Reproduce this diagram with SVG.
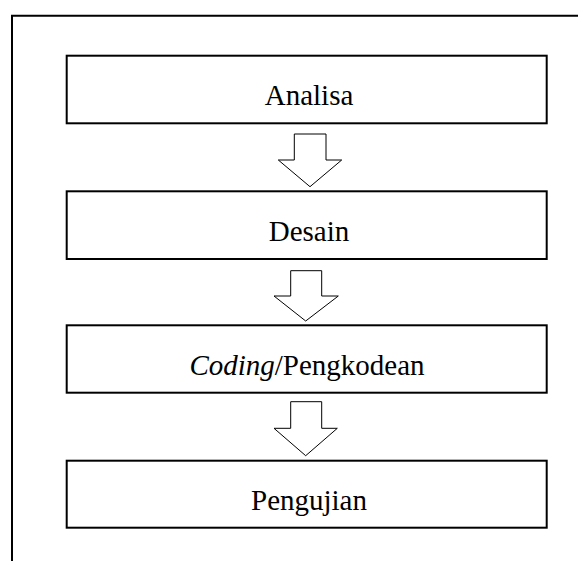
<svg xmlns="http://www.w3.org/2000/svg" width="578" height="561" viewBox="0 0 578 561">
<style>
.box{fill:#fff;stroke:#000;stroke-width:2}
.frame{fill:none;stroke:#000;stroke-width:2}
.arr{fill:#fff;stroke:#000;stroke-width:1}
text{font-family:"Liberation Serif","Times New Roman",serif;font-size:29px;fill:#000;text-anchor:middle}
</style>
<g id="frame"><path class="frame" d="M12,561 V15.7 H578"/></g>
<g id="connectors">
<polygon class="arr" points="294.3,134 326,134 326,160 341.7,160 310,186.7 278.3,160 294.3,160"/>
<polygon class="arr" points="290.7,270.7 321.7,270.7 321.7,296 338.3,296 305.7,321 274,296 290.7,296"/>
<polygon class="arr" points="290.7,401.7 321.7,401.7 321.7,428.3 337.3,428.3 305.7,455.7 274,428.3 290.7,428.3"/>
</g>
<g id="n1"><rect class="box" x="66.7" y="55.7" width="480" height="67.6"/><text x="309" y="105">Analisa</text></g>
<g id="n2"><rect class="box" x="66.7" y="191.3" width="480" height="67.7"/><text x="309" y="241">Desain</text></g>
<g id="n3"><rect class="box" x="66.7" y="325.3" width="480" height="67.4"/><text x="307" y="375"><tspan font-style="italic">Coding</tspan>/Pengkodean</text></g>
<g id="n4"><rect class="box" x="66.7" y="460.7" width="480" height="67"/><text x="309" y="510">Pengujian</text></g>
</svg>
